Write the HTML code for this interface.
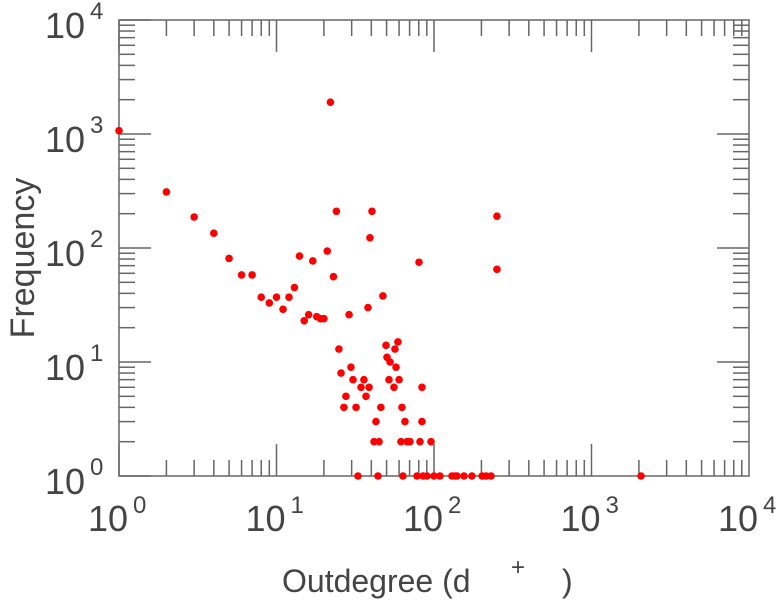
<!DOCTYPE html>
<html><head><meta charset="utf-8"><style>
body{margin:0;background:#fff;}
svg{display:block;font-family:"Liberation Sans",sans-serif;}
</style></head><body>
<svg id="chart" width="779" height="600" viewBox="0 0 779 600">
<g id="axes"></g>
<g id="points"></g>
<text x="282" y="592" font-size="32" fill="#444">Outdegree (d</text>
<text x="511" y="575" font-size="24" fill="#444">+</text>
<text x="562" y="592" font-size="32" fill="#444">)</text>
<text transform="translate(34,258) rotate(-90)" text-anchor="middle" font-size="34" fill="#444">Frequency</text>
</svg>
<script>
const xDecades=[0,1,2,3,4];
const yDecades=[0,1,2,3,4];
const xVals=[1,2,3,4,5,6,7,8,9,10,11,12,13,14,15,16,17,18,19,20,21,22,23,24,24.9,25.7,29.7,30.6,27.6,26.8,32,34.4,35.9,38.7,37,32.9,42.8,41.6,44.8,44.1,46,49.6,50.3,52.6,51.8,55.7,57.4,56.5,59,60,62.6,65.4,61.7,67.4,70.4,63.5,83.9,83.9,81.5,95.7,78,85.2,90.3,100,109,130,136,140,155,174,202,214,230,80.3,251,251,2063,47.4,38.1,28.9,39.2,40.4];
const yVals=[1070,310,187,135,81,58,58,37,33,37,29,37,45,85,23,26,77,25,24,24,94,1900,56,210,13,8,9,7,5,4,4,6,7,6,5,1,3,2,2,1,4,14,11,10,7,6,9,13,15,7,4,3,2,2,2,1,6,3,2,2,1,1,1,1,1,1,1,1,1,1,1,1,1,75,190,65,1,38,30,26,123,210];
const L=119,R=749,T=20,B=476;
const xs=v=>L+(Math.log10(v)-xDecades[0])/(xDecades[4]-xDecades[0])*(R-L);
const ys=v=>B-(Math.log10(v)-yDecades[0])/(yDecades[4]-yDecades[0])*(B-T);
const NS="http://www.w3.org/2000/svg";
const ax=document.getElementById('axes'),pg=document.getElementById('points');
function line(x1,y1,x2,y2,name){const l=document.createElementNS(NS,'line');
l.setAttribute('x1',x1);l.setAttribute('y1',y1);l.setAttribute('x2',x2);l.setAttribute('y2',y2);
l.setAttribute('stroke','#666');l.setAttribute('stroke-width','1.5');


ax.appendChild(l);}
const fr=document.createElementNS(NS,'rect');
fr.setAttribute('x',L);fr.setAttribute('y',T);fr.setAttribute('width',R-L);fr.setAttribute('height',B-T);
fr.setAttribute('fill','none');fr.setAttribute('stroke','#666');fr.setAttribute('stroke-width','1.5');


ax.appendChild(fr);
for(let d=0;d<4;d++){for(let m=1;m<=9;m++){const v=Math.pow(10,d)*m;const len=m===1?32:16;
 const x=xs(v);if(m>1||d>0){line(x,B,x,B-len,'x-tick');line(x,T,x,T+len,'x-tick-top');}
 const y=ys(v);if(m>1||d>0){line(L,y,L+len,y,'y-tick');line(R,y,R-len,y,'y-tick-right');}}}
line(L,B,L+32,B,'y-tick');line(L,T,L+32,T,'y-tick');line(L,B,L,B-32,'x-tick');line(L,T,L,T+32,'x-tick-top');
function lab(x,y,ex,ey,e,name){const t=document.createElementNS(NS,'text');
 
 
 t.setAttribute('fill','#444');
 t.innerHTML='<tspan x="'+x+'" y="'+y+'" font-size="36">10</tspan><tspan x="'+ex+'" y="'+ey+'" font-size="24">'+e+'</tspan>';
 ax.appendChild(t);}
xDecades.forEach(d=>{const x=xs(Math.pow(10,d));lab(x-31,531,x+14,513,d,'x-tick-label');});
yDecades.forEach(d=>{const y=ys(Math.pow(10,d));lab(45,y+18,90,y-1,d,'y-tick-label');});
xVals.forEach((v,i)=>{const c=document.createElementNS(NS,'circle');
 c.setAttribute('cx',xs(v));c.setAttribute('cy',ys(yVals[i]));c.setAttribute('r','3.8');c.setAttribute('fill','#f00');
 
 
 pg.appendChild(c);});
</script>
</body></html>
